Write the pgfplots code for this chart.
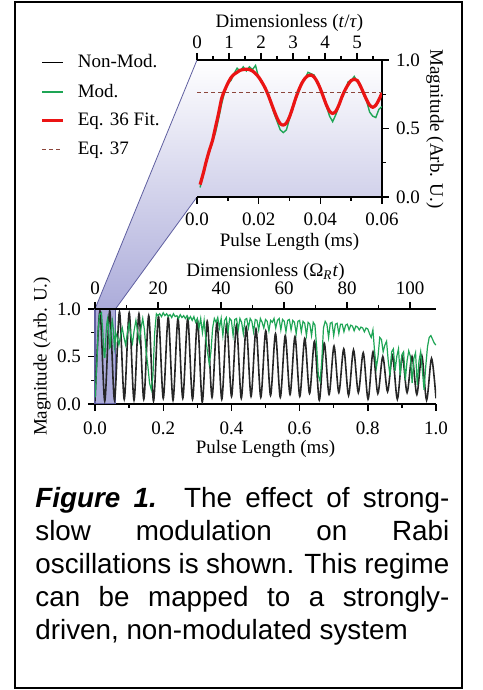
\documentclass[border=0pt]{standalone}
\usepackage{fontspec}
\setmainfont{Liberation Serif}
\newfontfamily\capfont{Liberation Sans}
\usepackage{pgfplots}
\pgfplotsset{compat=1.18}
\usepackage{pgfplotstable}
\usetikzlibrary{backgrounds}

\definecolor{modgreen}{RGB}{30,165,85}
\definecolor{fitred}{RGB}{235,20,20}
\definecolor{eqbrown}{RGB}{140,70,60}
\definecolor{lav}{RGB}{172,172,218}
\definecolor{lavedge}{RGB}{95,95,160}

% non-modulated Rabi oscillation: troughs and peaks
\pgfplotstableread{
x y
0.0000 0.03
0.0145 0.98
0.0286 0.03
0.0431 0.98
0.0572 0.04
0.0717 0.97
0.0858 0.05
0.1003 0.96
0.1144 0.04
0.1289 0.95
0.1430 0.05
0.1575 0.93
0.1716 0.03
0.1861 0.92
0.2002 0.06
0.2147 0.91
0.2288 0.04
0.2433 0.90
0.2574 0.06
0.2719 0.90
0.2860 0.05
0.3005 0.88
0.3146 0.02
0.3291 0.87
0.3432 0.07
0.3577 0.86
0.3718 0.05
0.3863 0.85
0.4004 0.08
0.4149 0.83
0.4290 0.06
0.4435 0.81
0.4576 0.08
0.4721 0.79
0.4862 0.07
0.5007 0.77
0.5148 0.09
0.5293 0.74
0.5434 0.07
0.5579 0.72
0.5720 0.10
0.5865 0.71
0.6006 0.08
0.6151 0.69
0.6292 0.11
0.6437 0.66
0.6578 0.04
0.6723 0.64
0.6864 0.10
0.7009 0.61
0.7150 0.12
0.7295 0.58
0.7436 0.09
0.7581 0.57
0.7722 0.12
0.7867 0.54
0.8008 0.05
0.8153 0.55
0.8294 0.11
0.8439 0.50
0.8580 0.13
0.8725 0.51
0.8866 0.05
0.9011 0.50
0.9152 0.12
0.9297 0.50
0.9438 0.10
0.9583 0.51
0.9724 0.04
0.9869 0.48
1.0000 0.06
}\nonmod

% modulated, first 0.06 ms
\pgfplotstableread{
x y
0.001 0.07
0.002 0.16
0.003 0.27
0.004 0.33
0.005 0.40
0.006 0.47
0.007 0.57
0.008 0.68
0.009 0.77
0.010 0.83
0.011 0.85
0.012 0.90
0.013 0.94
0.014 0.92
0.015 0.95
0.016 0.92
0.017 0.95
0.018 0.93
0.019 0.96
0.020 0.87
0.021 0.85
0.022 0.79
0.023 0.76
0.024 0.68
0.025 0.61
0.026 0.55
0.027 0.49
0.028 0.47
0.029 0.49
0.030 0.57
0.031 0.64
0.032 0.73
0.033 0.77
0.034 0.84
0.035 0.86
0.036 0.91
0.037 0.90
0.038 0.89
0.039 0.83
0.040 0.80
0.041 0.72
0.042 0.66
0.043 0.59
0.044 0.55
0.045 0.60
0.046 0.66
0.047 0.74
0.048 0.77
0.049 0.84
0.050 0.85
0.051 0.88
0.052 0.84
0.053 0.82
0.054 0.75
0.055 0.70
0.056 0.62
0.057 0.59
0.058 0.58
0.059 0.64
0.060 0.66
}\modinset

% Eq. 36 fit
\pgfplotstableread{
x y
0.001 0.09
0.002 0.17
0.003 0.26
0.004 0.34
0.005 0.41
0.006 0.51
0.007 0.61
0.008 0.72
0.009 0.78
0.010 0.83
0.011 0.87
0.012 0.895
0.013 0.91
0.014 0.925
0.015 0.93
0.016 0.933
0.017 0.93
0.018 0.92
0.019 0.90
0.020 0.875
0.021 0.84
0.022 0.80
0.023 0.75
0.024 0.69
0.025 0.63
0.026 0.575
0.027 0.535
0.028 0.525
0.029 0.54
0.030 0.585
0.031 0.65
0.032 0.72
0.033 0.78
0.034 0.83
0.035 0.865
0.036 0.885
0.037 0.89
0.038 0.875
0.039 0.84
0.040 0.79
0.041 0.73
0.042 0.67
0.043 0.625
0.044 0.61
0.045 0.625
0.046 0.67
0.047 0.73
0.048 0.78
0.049 0.82
0.050 0.85
0.051 0.86
0.052 0.85
0.053 0.81
0.054 0.76
0.055 0.71
0.056 0.67
0.057 0.655
0.058 0.67
0.059 0.71
0.060 0.76
}\fit

% modulated, full pulse range
\pgfplotstableread{
x y
0.001 0.07
0.003 0.27
0.005 0.40
0.007 0.57
0.009 0.77
0.011 0.85
0.013 0.94
0.015 0.95
0.017 0.95
0.019 0.96
0.021 0.85
0.023 0.76
0.025 0.61
0.027 0.49
0.029 0.49
0.031 0.64
0.033 0.77
0.035 0.86
0.037 0.90
0.039 0.83
0.041 0.72
0.043 0.59
0.045 0.60
0.047 0.74
0.049 0.84
0.051 0.88
0.053 0.82
0.055 0.70
0.057 0.59
0.059 0.64
0.060 0.76
0.065 0.70
0.070 0.62
0.075 0.72
0.080 0.80
0.085 0.70
0.090 0.62
0.095 0.75
0.100 0.85
0.105 0.72
0.110 0.64
0.115 0.78
0.120 0.88
0.125 0.76
0.130 0.66
0.135 0.80
0.140 0.90
0.145 0.78
0.150 0.55
0.155 0.40
0.160 0.22
0.165 0.15
0.170 0.30
0.175 0.75
0.180 0.95
0.185 0.93
0.190 0.95
0.195 0.92
0.200 0.96
0.205 0.93
0.210 0.95
0.215 0.92
0.220 0.94
0.225 0.91
0.230 0.95
0.235 0.92
0.240 0.93
0.245 0.90
0.250 0.94
0.255 0.91
0.260 0.93
0.265 0.90
0.270 0.93
0.275 0.89
0.280 0.92
0.285 0.88
0.290 0.92
0.295 0.86
0.300 0.90
0.305 0.80
0.310 0.90
0.315 0.75
0.320 0.88
0.325 0.68
0.330 0.55
0.335 0.42
0.340 0.55
0.345 0.80
0.350 0.90
0.355 0.86
0.360 0.91
0.365 0.80
0.370 0.90
0.375 0.72
0.380 0.88
0.385 0.91
0.390 0.76
0.395 0.90
0.400 0.88
0.405 0.72
0.410 0.89
0.415 0.90
0.420 0.78
0.425 0.90
0.430 0.86
0.435 0.74
0.440 0.89
0.445 0.90
0.450 0.80
0.455 0.90
0.460 0.87
0.465 0.76
0.470 0.89
0.475 0.88
0.480 0.78
0.485 0.90
0.490 0.86
0.495 0.80
0.500 0.89
0.505 0.87
0.510 0.77
0.515 0.88
0.520 0.86
0.525 0.90
0.530 0.80
0.535 0.88
0.540 0.90
0.545 0.78
0.550 0.89
0.555 0.87
0.560 0.76
0.565 0.88
0.570 0.89
0.575 0.78
0.580 0.88
0.585 0.86
0.590 0.74
0.595 0.87
0.600 0.88
0.605 0.76
0.610 0.87
0.615 0.85
0.620 0.72
0.625 0.86
0.630 0.84
0.635 0.72
0.640 0.86
0.645 0.83
0.650 0.60
0.655 0.30
0.660 0.24
0.665 0.45
0.670 0.80
0.675 0.87
0.680 0.84
0.685 0.70
0.690 0.85
0.695 0.86
0.700 0.72
0.705 0.84
0.710 0.85
0.715 0.74
0.720 0.84
0.725 0.84
0.730 0.76
0.735 0.83
0.740 0.84
0.745 0.78
0.750 0.83
0.755 0.82
0.760 0.77
0.765 0.82
0.770 0.81
0.775 0.78
0.780 0.81
0.785 0.80
0.790 0.76
0.795 0.80
0.800 0.79
0.805 0.74
0.810 0.70
0.815 0.78
0.820 0.55
0.825 0.38
0.830 0.50
0.835 0.70
0.840 0.68
0.845 0.55
0.850 0.62
0.855 0.66
0.860 0.45
0.865 0.30
0.870 0.55
0.875 0.58
0.880 0.35
0.885 0.50
0.890 0.58
0.895 0.30
0.900 0.52
0.905 0.55
0.910 0.25
0.915 0.45
0.920 0.56
0.925 0.50
0.930 0.22
0.935 0.48
0.940 0.54
0.945 0.20
0.950 0.45
0.955 0.55
0.960 0.35
0.965 0.15
0.970 0.40
0.975 0.60
0.980 0.70
0.985 0.72
0.990 0.68
0.995 0.64
1.000 0.62
}\modmain

\pgfplotsset{
  rabi/.style={
    scale only axis,
    anchor=south west,
    ymin=0, ymax=1,
    scaled ticks=false,
    separate axis lines,
    axis line style={-, line width=1pt},
    tick align=outside,
    major tick length=3.5pt,
    minor tick length=2pt,
    every tick/.style={black, line width=0.7pt},
    tick label style={font=\fontsize{9.5}{11}\selectfont},
    label style={font=\fontsize{9.5}{11}\selectfont},
    /pgf/number format/assume math mode=true,
  }
}

\begin{document}
\begin{tikzpicture}
\useasboundingbox (0pt,0pt) rectangle (241pt,345pt);

% ---- inset: first 0.06 ms ----
\begin{axis}[rabi,
  at={(98.5pt,246.5pt)}, width=92.5pt, height=68.5pt,
  xmin=0, xmax=0.06,
  axis x line*=bottom, axis y line*=right,
  xtick={0,0.02,0.04,0.06}, xticklabels={0.0,0.02,0.04,0.06},
  minor xtick={0.01,0.03,0.05},
  ytick={0,0.5,1}, yticklabels={0.0,0.5,1.0},
  minor ytick={0.25,0.75},
  xticklabel style={yshift=-1pt},
  xlabel={Pulse Length (ms)},
  xlabel style={at={(axis description cs:0.5,-0.33)}, anchor=center},
  ylabel={Magnitude (Arb. U.)},
  ylabel style={at={(axis description cs:1.2865,0.496)}, anchor=center, rotate=180},
  legend style={at={(-0.88,1.10)}, anchor=north west, draw=none, fill=none,
    font=\fontsize{9.5}{11}\selectfont, row sep=2.5pt},
  legend cell align=left,
  legend image code/.code={\draw[#1] (0pt,0pt) -- (10.5pt,0pt); \path (15pt,0pt);},
]
\addlegendimage{black, line width=0.7pt}
\addlegendentry{Non-Mod.}
\addplot[modgreen, line width=0.7pt] table {\modinset};
\addlegendentry{Mod.}
\addplot[fitred, line width=1.6pt, smooth] table {\fit};
\addlegendentry{Eq. 36 Fit.}
\addplot[eqbrown, line width=0.6pt, dash pattern=on 2pt off 1.5pt] coordinates {(0,0.76) (0.06,0.76)};
\addlegendentry{Eq. 37}
\coordinate (iTL) at (rel axis cs:0,1);
\coordinate (iTR) at (rel axis cs:1,1);
\coordinate (iBR) at (rel axis cs:1,0);
\coordinate (iBL) at (rel axis cs:0,0);
\end{axis}

\begin{axis}[rabi,
  at={(98.5pt,246.5pt)}, width=92.5pt, height=68.5pt,
  xmin=0, xmax=5.78,
  axis x line*=top, hide y axis,
  xtick={0,1,2,3,4,5}, xticklabels={0,1,2,3,4,5},
  minor xtick={0.5,1.5,2.5,3.5,4.5,5.5},
  xticklabel style={yshift=-1.5pt},
  xlabel={Dimensionless (\textit{t}/\textit{τ})},
  xlabel style={at={(axis description cs:0.5,1.270)}, anchor=center},
]
\end{axis}

% ---- main plot: full pulse range ----
\begin{axis}[rabi,
  at={(47.5pt,143pt)}, width=170.5pt, height=47.5pt,
  xmin=0, xmax=1,
  axis x line*=bottom, axis y line*=left,
  y axis line style={line width=0.6pt, lavedge},
  xtick={0,0.2,0.4,0.6,0.8,1}, xticklabels={0.0,0.2,0.4,0.6,0.8,1.0},
  minor xtick={0.1,0.3,0.5,0.7,0.9},
  ytick={0,0.5,1}, yticklabels={0.0,0.5,1.0},
  minor ytick={0.25,0.75},
  xticklabel style={yshift=-2pt},
  xlabel={Pulse Length (ms)},
  xlabel style={at={(axis description cs:0.5,-0.475)}, anchor=center},
  ylabel={Magnitude (Arb. U.)},
  ylabel style={at={(axis description cs:-0.155,0.5)}, anchor=center},
]
\fill[lav, draw=lavedge, line width=0.5pt] (axis cs:0,0) rectangle (axis cs:0.06,1);
\addplot[black!85, line width=0.8pt, smooth] table {\nonmod};
\addplot[modgreen, line width=0.6pt] table {\modmain};
\coordinate (mA) at (axis cs:0,1);
\coordinate (mB) at (axis cs:0.06,1);
\end{axis}

\begin{axis}[rabi,
  at={(47.5pt,143pt)}, width=170.5pt, height=47.5pt,
  xmin=0, xmax=108.25,
  axis x line*=top, hide y axis,
  xtick={0,20,40,60,80,100}, xticklabels={0,20,40,60,80,100},
  minor xtick={10,30,50,70,90},
  xlabel={Dimensionless (Ω\textsubscript{\textit{R}}\textit{t})},
  xlabel style={at={(axis description cs:0.5,1.3895)}, anchor=center},
]
\end{axis}

% zoom connector
\begin{pgfonlayer}{background}
\shade[top color=white, bottom color=lav]
  (iTL) -- (iTR) -- (iBR) -- (iBL) -- (mB) -- (mA) -- cycle;
\draw[lavedge, line width=0.4pt] (iTL) -- (mA);
\draw[lavedge, line width=0.4pt] (iBL) -- (mB);
\end{pgfonlayer}

% frame and caption
\draw[line width=1pt] (7.5pt,1pt) rectangle (231pt,344pt);
\node[anchor=base west, inner sep=0pt, text width=207pt, align=justify,
  font=\capfont\fontsize{13.9}{16.5}\selectfont] at (17.5pt,91pt)
  {\tolerance=10000\hyphenpenalty=10000{\bfseries\itshape Figure 1.} The effect of strong-\linebreak
   slow modulation on Rabi\linebreak
   oscillations is shown. This regime\linebreak
   can be mapped to a strongly-\linebreak
   driven, non-modulated system};
\end{tikzpicture}
\end{document}
